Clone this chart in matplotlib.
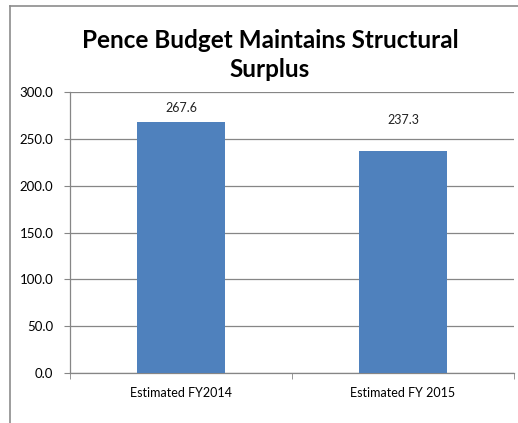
import matplotlib
matplotlib.use('Agg')
import matplotlib.pyplot as plt
from matplotlib.lines import Line2D

categories = ['Estimated FY2014', 'Estimated FY 2015']
values = [267.6, 237.3]
label_offsets = [10, 22]  # points above bar top

plt.rcParams['font.family'] = ['Lato', 'DejaVu Sans']

fig = plt.figure(figsize=(5.18, 4.23), dpi=100)
ax = fig.add_axes([70 / 518, 50 / 423, 444 / 518, 281 / 423])

x = list(range(len(categories)))
ax.bar(x, values, width=0.4, color='#4F81BD', zorder=3)

for xi, v, off in zip(x, values, label_offsets):
    ax.annotate('%.1f' % v, (xi, v), xytext=(0, off), textcoords='offset points',
                ha='center', va='center', fontsize=9, color='#222222')

ax.set_xlim(-0.5, 1.5)
ax.set_ylim(0, 300)
ax.set_yticks([0, 50, 100, 150, 200, 250, 300])
ax.set_yticklabels(['%.1f' % t for t in ax.get_yticks()], fontsize=9.5)
ax.set_xticks(x)
ax.set_xticklabels(categories, fontsize=9)
ax.set_xticks([-0.5, 0.5, 1.5], minor=True)
ax.tick_params(axis='x', which='major', length=0, pad=10)
ax.tick_params(axis='x', which='minor', length=4, color='#868686', direction='out')
ax.tick_params(axis='y', length=4, color='#868686', pad=8)

ax.yaxis.grid(True, color='#868686', linewidth=0.9, zorder=0)
for s in ['top', 'right']:
    ax.spines[s].set_visible(False)
for s in ['left', 'bottom']:
    ax.spines[s].set_color('#868686')
    ax.spines[s].set_linewidth(0.9)

fig.text(0.521, 1 - 55 / 423, 'Pence Budget Maintains Structural\nSurplus', ha='center', va='center',
         fontsize=17.5, fontweight='bold', linespacing=1.3)

# outer chart frame
fig.add_artist(Line2D([10 / 518, 10 / 518], [0, 1 - 6 / 423], color='#8c8c8c', lw=1.2,
                      transform=fig.transFigure))
fig.add_artist(Line2D([10 / 518, 1], [1 - 6 / 423, 1 - 6 / 423], color='#8c8c8c', lw=1.2,
                      transform=fig.transFigure))

fig.savefig('out.png', dpi=100)
